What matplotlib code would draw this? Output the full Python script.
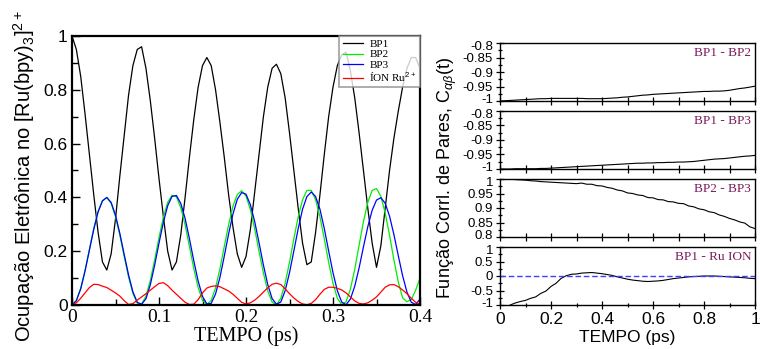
import numpy as np
import matplotlib
matplotlib.use("Agg")
import matplotlib.pyplot as plt
from matplotlib.ticker import FixedLocator, MultipleLocator
from matplotlib.transforms import ScaledTranslation

plt.rcParams['axes.unicode_minus'] = False
plt.rcParams['mathtext.fontset'] = 'custom'
plt.rcParams['mathtext.rm'] = 'Liberation Sans'
plt.rcParams['mathtext.it'] = 'Liberation Sans:italic'
plt.rcParams['mathtext.bf'] = 'Liberation Sans:bold'

# ----------------------------------------
# Left panel: electronic occupation (t = 0 ... 0.4 ps, step 0.005)
t_occ = np.linspace(0, 0.4, 81)

bp1 = [1.00, 0.95, 0.85, 0.71, 0.56, 0.41, 0.27, 0.16, 0.13, 0.19, 0.32, 0.48, 0.63, 0.78, 0.89, 0.95, 0.96,
       0.88, 0.76, 0.62, 0.47, 0.33, 0.20, 0.13, 0.16, 0.26, 0.40, 0.55, 0.69, 0.81, 0.89, 0.92, 0.89,
       0.80, 0.68, 0.55, 0.41, 0.29, 0.19, 0.14, 0.18, 0.28, 0.42, 0.56, 0.70, 0.81, 0.88, 0.895, 0.86,
       0.77, 0.64, 0.50, 0.36, 0.23, 0.15, 0.16, 0.27, 0.41, 0.56, 0.70, 0.81, 0.89, 0.93, 0.94, 0.87,
       0.77, 0.64, 0.50, 0.36, 0.23, 0.14, 0.22, 0.36, 0.50, 0.62, 0.72, 0.81, 0.88, 0.92, 0.92, 0.88]

bp2 = [0.000, 0.017, 0.062, 0.129, 0.207, 0.284, 0.348, 0.388, 0.399, 0.378, 0.328, 0.259, 0.180, 0.104, 0.043, 0.007, 0.003,
       0.033, 0.091, 0.168, 0.251, 0.326, 0.382, 0.408, 0.402, 0.362, 0.298, 0.217, 0.135, 0.065, 0.017, 0.002, 0.017,
       0.064, 0.134, 0.217, 0.298, 0.367, 0.411, 0.425, 0.405, 0.355, 0.283, 0.199, 0.119, 0.052, 0.011, 0.001, 0.025,
       0.081, 0.159, 0.246, 0.328, 0.391, 0.426, 0.426, 0.391, 0.328, 0.246, 0.159, 0.081, 0.025, 0.001, 0.012, 0.059,
       0.133, 0.222, 0.310, 0.382, 0.426, 0.433, 0.404, 0.342, 0.259, 0.168, 0.086, 0.027, 0.012, 0.020, 0.055, 0.100]

bp3 = [0.000, 0.016, 0.060, 0.126, 0.204, 0.281, 0.346, 0.387, 0.400, 0.381, 0.334, 0.266, 0.188, 0.112, 0.049, 0.010, 0.003,
       0.023, 0.075, 0.148, 0.230, 0.307, 0.369, 0.404, 0.407, 0.378, 0.322, 0.246, 0.164, 0.089, 0.032, 0.004, 0.006,
       0.041, 0.102, 0.181, 0.264, 0.338, 0.393, 0.418, 0.412, 0.373, 0.310, 0.231, 0.149, 0.076, 0.024, 0.003, 0.011,
       0.053, 0.120, 0.201, 0.284, 0.356, 0.403, 0.420, 0.403, 0.356, 0.284, 0.201, 0.120, 0.053, 0.011, 0.001, 0.022,
       0.070, 0.138, 0.216, 0.291, 0.352, 0.390, 0.399, 0.378, 0.330, 0.262, 0.184, 0.109, 0.048, 0.010, 0.002, 0.022]

ru_ion = [0.000, 0.008, 0.025, 0.045, 0.065, 0.077, 0.076, 0.070, 0.065, 0.055, 0.045, 0.033, 0.016, 0.002, 0.005, 0.018, 0.030,
          0.042, 0.055, 0.068, 0.080, 0.083, 0.072, 0.055, 0.040, 0.025, 0.010, 0.002, 0.003, 0.020, 0.045, 0.063, 0.069,
          0.071, 0.068, 0.060, 0.052, 0.040, 0.025, 0.010, 0.004, 0.008, 0.018, 0.032, 0.048, 0.064, 0.077, 0.081, 0.076,
          0.060, 0.042, 0.026, 0.013, 0.004, 0.001, 0.006, 0.020, 0.040, 0.058, 0.066, 0.066, 0.062, 0.056, 0.045, 0.030,
          0.015, 0.006, 0.004, 0.008, 0.018, 0.030, 0.048, 0.066, 0.075, 0.076, 0.068, 0.056, 0.042, 0.025, 0.010, 0.003]

occ_labels = ['BP1', 'BP2', 'BP3', 'ÍON Ru$^{2+}$']
occ_colors = ['black', '#00ee00', '#0000ff', '#ff0000']

# ----------------------------------------
# Right panels: pair correlation functions (t = 0 ... 1 ps, step 0.02)
t_corr = np.linspace(0, 1, 51)

c_bp1_bp2 = [-1.000, -0.999, -0.998, -0.997, -0.996, -0.995, -0.994, -0.993, -0.992, -0.992,
             -0.991, -0.991, -0.991, -0.991, -0.991, -0.991, -0.991, -0.992, -0.992, -0.992,
             -0.992, -0.991, -0.990, -0.989, -0.987, -0.986, -0.984, -0.982, -0.980, -0.979,
             -0.977, -0.976, -0.975, -0.974, -0.973, -0.972, -0.971, -0.970, -0.969, -0.968,
             -0.967, -0.967, -0.966, -0.966, -0.965, -0.963, -0.960, -0.957, -0.955, -0.952, -0.949]

c_bp1_bp3 = [-1.000, -1.000, -1.000, -0.999, -0.999, -0.999, -0.999, -0.999, -0.998, -0.998,
             -0.997, -0.996, -0.995, -0.994, -0.993, -0.992, -0.991, -0.990, -0.989, -0.988,
             -0.987, -0.986, -0.985, -0.984, -0.983, -0.982, -0.981, -0.980, -0.980, -0.979,
             -0.979, -0.978, -0.978, -0.977, -0.977, -0.976, -0.976, -0.975, -0.974, -0.972,
             -0.970, -0.968, -0.966, -0.965, -0.964, -0.962, -0.960, -0.958, -0.956, -0.955, -0.953]

c_bp2_bp3 = [1.000, 0.999, 0.999, 0.998, 0.997, 0.996, 0.994, 0.993, 0.991, 0.990,
             0.989, 0.988, 0.987, 0.986, 0.985, 0.984, 0.986, 0.982, 0.982, 0.977,
             0.976, 0.971, 0.968, 0.962, 0.959, 0.952, 0.950, 0.945, 0.943, 0.936,
             0.935, 0.929, 0.928, 0.922, 0.921, 0.916, 0.915, 0.907, 0.904, 0.897,
             0.894, 0.887, 0.884, 0.876, 0.871, 0.864, 0.859, 0.852, 0.848, 0.835, 0.829]

c_bp1_ru = [-1.20, -1.10, -1.00, -0.93, -0.88, -0.84, -0.77, -0.72, -0.60, -0.52,
            -0.36, -0.25, -0.08, 0.01, 0.06, 0.07, 0.10, 0.11, 0.12, 0.10,
            0.08, 0.05, 0.02, -0.03, -0.07, -0.11, -0.14, -0.16, -0.18, -0.19,
            -0.18, -0.17, -0.15, -0.12, -0.09, -0.07, -0.05, -0.03, -0.02, -0.01,
            0.00, 0.00, 0.00, -0.01, -0.02, -0.03, -0.04, -0.05, -0.06, -0.08, -0.09]

corr_series = [c_bp1_bp2, c_bp1_bp3, c_bp2_bp3, c_bp1_ru]
corr_names = ['BP1 - BP2', 'BP1 - BP3', 'BP2 - BP3', 'BP1 - Ru ION']
corr_ylims = [(-1, -0.8), (-1, -0.8), (0.8, 1), (-1, 1)]
corr_yticks = [[-1, -0.95, -0.9, -0.85, -0.8],
               [-1, -0.95, -0.9, -0.85, -0.8],
               [0.8, 0.85, 0.9, 0.95, 1],
               [-1, -0.5, 0, 0.5, 1]]
corr_yticklabels = [['-1', '-0.95', '-0.9', '-0.85', '-0.8'],
                    ['-1', '-0.95', '-0.9', '-0.85', '-0.8'],
                    ['0.8', '0.85', '0.9', '0.95', '1'],
                    ['-1', '-0.5', '0', '0.5', '1']]

W, H = 760, 349
fig = plt.figure(figsize=(W / 100, H / 100), dpi=100)

def rect(x0, y0, x1, y1):
    # pixel box -> figure fraction
    return [x0 / W, 1 - y1 / H, (x1 - x0) / W, (y1 - y0) / H]

# ----------------------------------------
# Left panel
ax = fig.add_axes(rect(72, 36, 420, 305))
for y, lab, col in zip([bp1, bp2, bp3, ru_ion], occ_labels, occ_colors):
    ax.plot(t_occ, y, color=col, lw=0.9, label=lab)
ax.set_xlim(0, 0.4)
ax.set_ylim(0, 1)
ax.xaxis.set_major_locator(FixedLocator([0, 0.1, 0.2, 0.3, 0.4]))
ax.set_xticklabels(['0', '0.1', '0.2', '0.3', '0.4'], family='Liberation Serif', fontsize=14)
ax.xaxis.set_minor_locator(MultipleLocator(0.05))
ax.yaxis.set_major_locator(FixedLocator([0, 0.2, 0.4, 0.6, 0.8, 1]))
ax.set_yticklabels(['0', '0.2', '0.4', '0.6', '0.8', '1'], family='Liberation Sans', fontsize=12.5)
ax.yaxis.set_minor_locator(MultipleLocator(0.1))
ax.tick_params(which='both', direction='in', top=False, right=False, width=1.0)
ax.tick_params(which='major', length=6, pad=3)
ax.tick_params(which='minor', length=4)
for s in ax.spines.values():
    s.set_linewidth(1.6)
ax.set_xlabel('TEMPO (ps)', family='Liberation Serif', fontsize=14.5, labelpad=0)
fig.text(24 / W, 1 - 176 / H, 'Ocupação Eletrônica no [Ru(bpy)$_3$]$^{2+}$',
         rotation=90, ha='center', va='center', family='Liberation Sans', fontsize=14.5)
leg = ax.legend(loc='upper right', prop={'family': 'Liberation Serif', 'size': 8},
                frameon=True, fancybox=False, borderaxespad=0, handlelength=1.8,
                labelspacing=0.05, borderpad=0.3, handletextpad=0.6)
leg.get_frame().set_edgecolor('#888888')
leg.get_frame().set_linewidth(1.2)

# ----------------------------------------
# Right panels
tops = [43, 111, 179, 247]
for i, (yv, name) in enumerate(zip(corr_series, corr_names)):
    axr = fig.add_axes(rect(500, tops[i], 755, tops[i] + 58))
    axr.plot(t_corr, yv, color='black', lw=0.8)
    if i == 3:
        axr.axhline(0, color='#4040ff', lw=1.0, ls='--', dashes=(4, 2))
    axr.set_xlim(0, 1)
    axr.set_ylim(*corr_ylims[i])
    axr.yaxis.set_major_locator(FixedLocator(corr_yticks[i]))
    axr.set_yticklabels(corr_yticklabels[i], family='Liberation Sans', fontsize=9.5)
    step = corr_yticks[i][1] - corr_yticks[i][0]
    axr.yaxis.set_minor_locator(MultipleLocator(step / 2))
    if i == 3:
        axr.xaxis.set_major_locator(FixedLocator([0, 0.2, 0.4, 0.6, 0.8, 1]))
        axr.set_xticklabels(['0', '0.2', '0.4', '0.6', '0.8', '1'], family='Liberation Sans', fontsize=12.5)
        axr.xaxis.set_minor_locator(MultipleLocator(0.1))
        axr.set_xlabel('TEMPO (ps)', family='Liberation Sans', fontsize=12.5, labelpad=2)
    else:
        axr.xaxis.set_major_locator(MultipleLocator(0.1))
        axr.set_xticklabels([])
    axr.tick_params(which='both', direction='inout', top=False, right=False, width=0.9)
    axr.tick_params(which='major', length=6, pad=2)
    axr.tick_params(which='minor', length=3)
    for s in axr.spines.values():
        s.set_linewidth(1.0)
    # nudge the end labels apart so neighbouring panels don't collide
    ylabs = axr.get_yticklabels()
    ylabs[0].set_transform(ylabs[0].get_transform() + ScaledTranslation(0, 2 / 72, fig.dpi_scale_trans))
    ylabs[-1].set_transform(ylabs[-1].get_transform() + ScaledTranslation(0, -2 / 72, fig.dpi_scale_trans))
    axr.text(0.985, 0.93, name, transform=axr.transAxes, ha='right', va='top',
             family='Liberation Serif', fontsize=9.5, color='#7b1c5c')

fig.text(447 / W, 1 - 178 / H, 'Função Corrl. de Pares, C$_{\\alpha\\beta}$(t)',
         rotation=90, ha='center', va='center', family='Liberation Sans', fontsize=13)

fig.savefig('out.png', dpi=100)
